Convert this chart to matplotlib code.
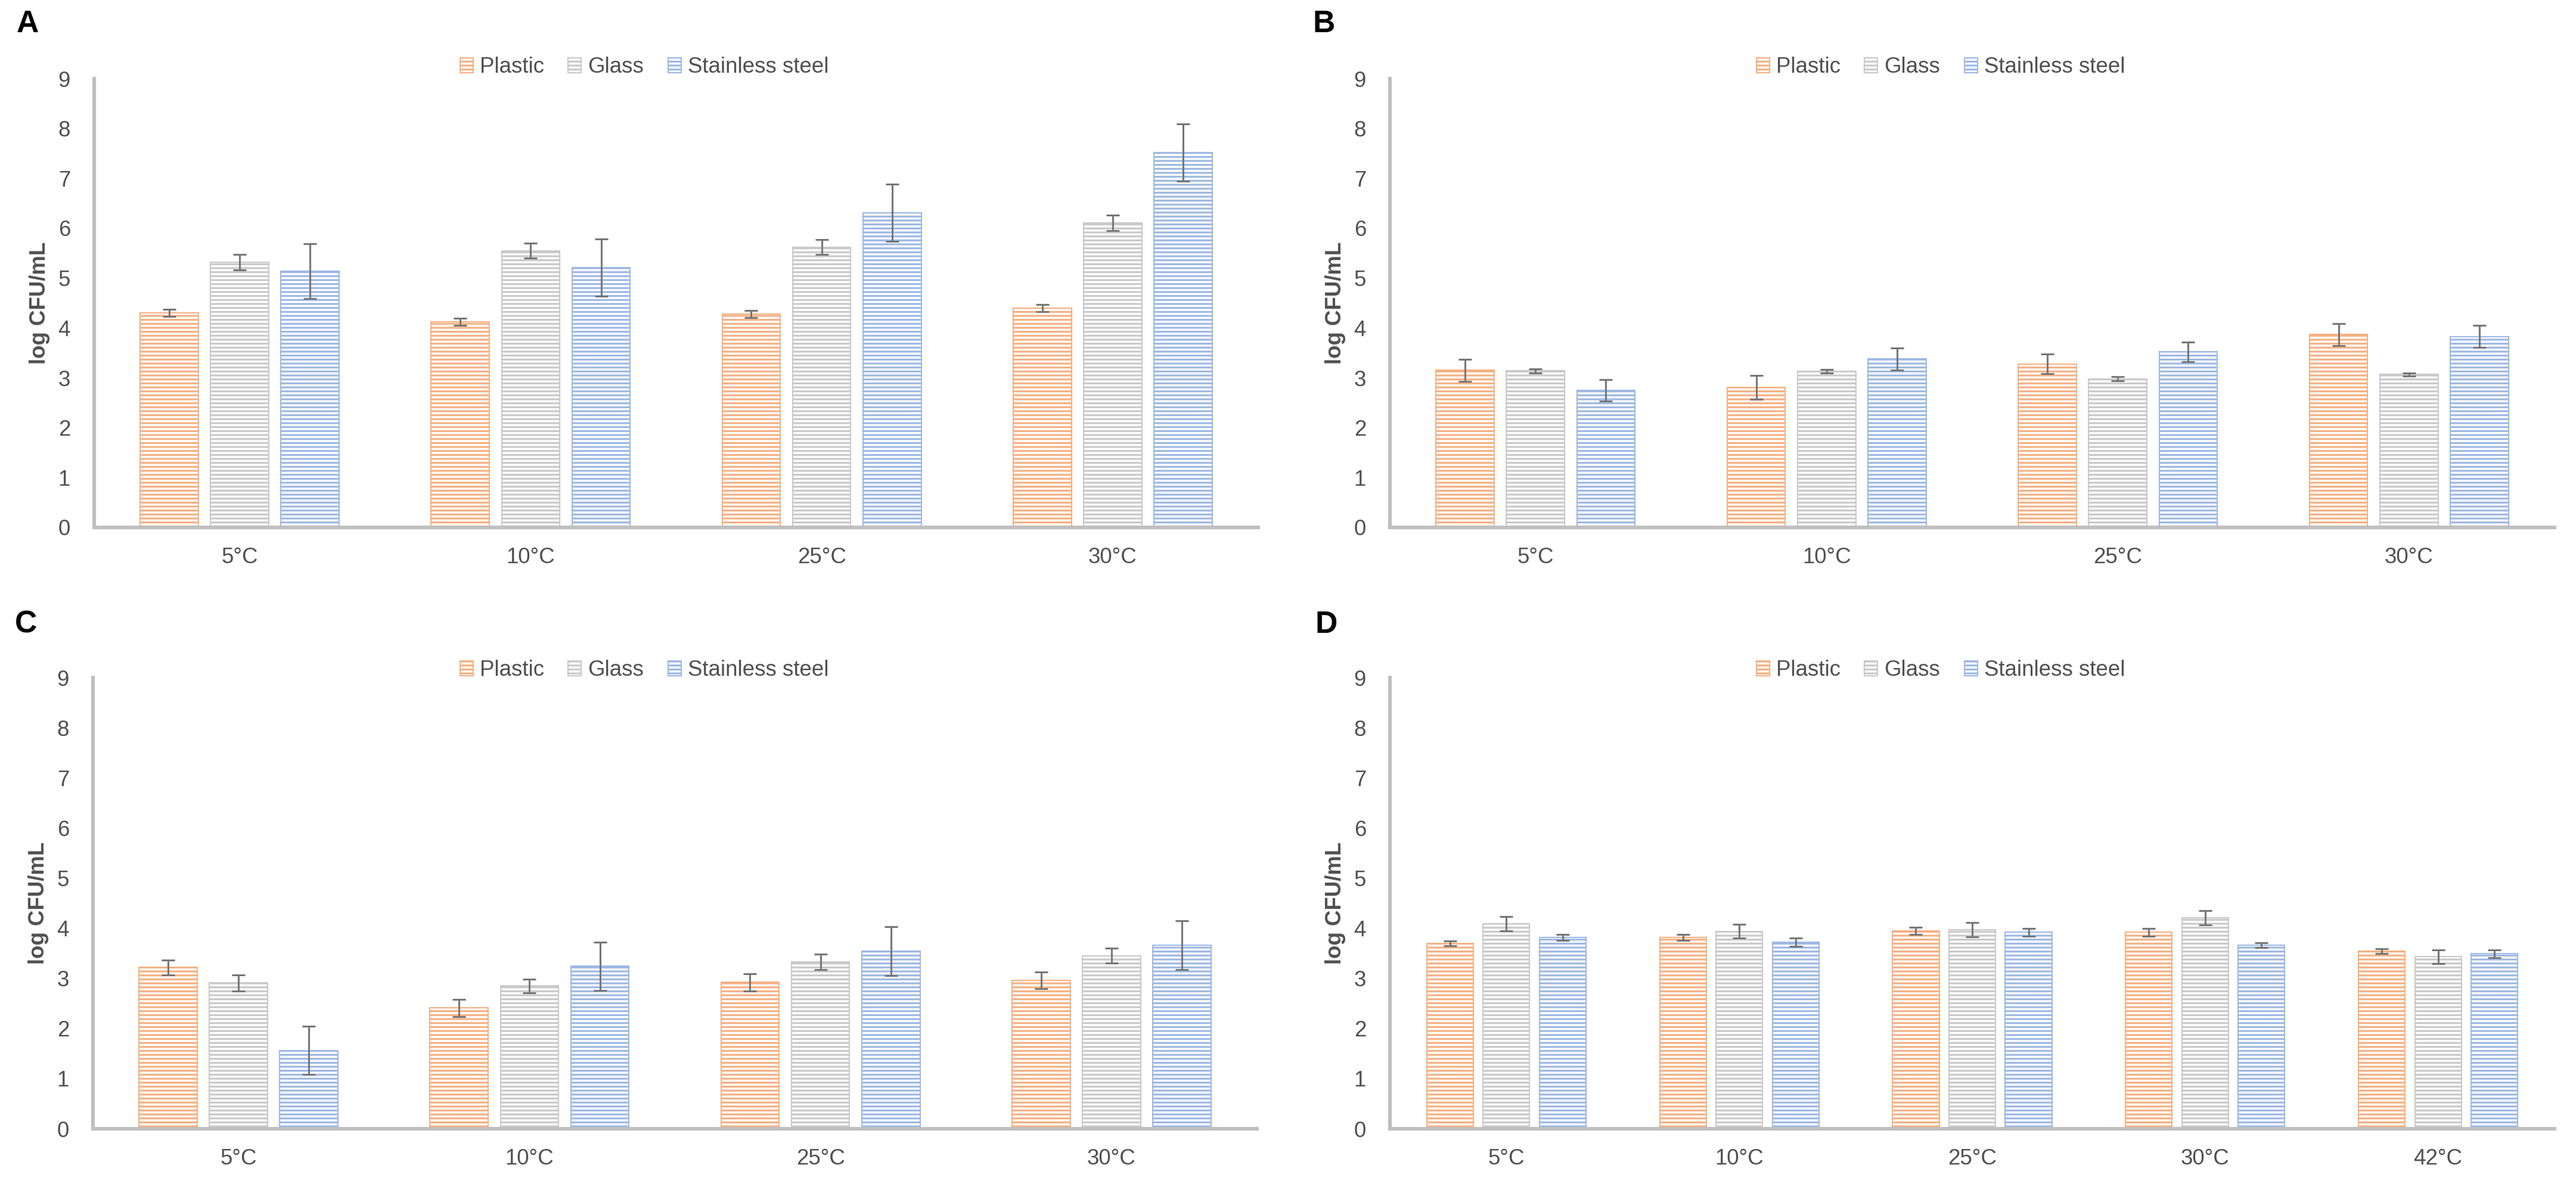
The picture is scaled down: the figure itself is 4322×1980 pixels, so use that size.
import matplotlib
matplotlib.use('Agg')
import matplotlib.pyplot as plt
import numpy as np

# figure size in pixels, rendered at 120 dpi so the '---' hatch matches the Excel stripe pitch
W, H, DPI = 4322, 1980, 120

plt.rcParams['font.family'] = ['Liberation Sans Narrow', 'Liberation Sans', 'DejaVu Sans']
plt.rcParams['hatch.linewidth'] = 1.9

temps_4 = ['5°C', '10°C', '25°C', '30°C']
temps_5 = ['5°C', '10°C', '25°C', '30°C', '42°C']
materials = ['Plastic', 'Glass', 'Stainless steel']

# panel A
a_plastic = [4.30, 4.12, 4.28, 4.40]
a_plastic_err = [0.07, 0.07, 0.07, 0.07]
a_glass = [5.32, 5.55, 5.62, 6.11]
a_glass_err = [0.16, 0.15, 0.15, 0.155]
a_steel = [5.14, 5.21, 6.31, 7.52]
a_steel_err = [0.55, 0.57, 0.57, 0.57]

# panel B
b_plastic = [3.15, 2.81, 3.28, 3.87]
b_plastic_err = [0.22, 0.24, 0.20, 0.22]
b_glass = [3.14, 3.13, 2.98, 3.07]
b_glass_err = [0.04, 0.04, 0.04, 0.03]
b_steel = [2.75, 3.38, 3.52, 3.83]
b_steel_err = [0.22, 0.22, 0.20, 0.22]

# panel C
c_plastic = [3.22, 2.41, 2.92, 2.96]
c_plastic_err = [0.15, 0.17, 0.17, 0.17]
c_glass = [2.91, 2.85, 3.33, 3.45]
c_glass_err = [0.16, 0.14, 0.15, 0.15]
c_steel = [1.56, 3.24, 3.54, 3.66]
c_steel_err = [0.48, 0.48, 0.49, 0.49]

# panel D
d_plastic = [3.70, 3.82, 3.95, 3.92, 3.54]
d_plastic_err = [0.05, 0.06, 0.07, 0.08, 0.05]
d_glass = [4.09, 3.94, 3.97, 4.21, 3.43]
d_glass_err = [0.14, 0.14, 0.14, 0.14, 0.14]
d_steel = [3.82, 3.72, 3.92, 3.66, 3.49]
d_steel_err = [0.06, 0.08, 0.08, 0.05, 0.08]

colors = ['#F4B183', '#C9C9C9', '#9DB8E3']
text_color = '#505050'
axis_color = '#BFBFBF'
err_color = '#767676'
bar_w = 0.2
bar_step = 0.242


def px(x0, y0, x1, y1):
    # axes rectangle from pixel box (top-left origin)
    return [x0 / W, 1 - y1 / H, (x1 - x0) / W, (y1 - y0) / H]


def panel(fig, rect, letter, letter_xy, legend_xy, cats, plastic, plastic_err, glass, glass_err, steel, steel_err):
    ax = fig.add_axes(px(*rect))
    x = np.arange(len(cats))
    series = [(plastic, plastic_err), (glass, glass_err), (steel, steel_err)]
    for k, (vals, errs) in enumerate(series):
        ax.bar(x + (k - 1) * bar_step, vals, bar_w, yerr=errs,
               facecolor='white', edgecolor=colors[k], linewidth=1.2, hatch='---',
               label=materials[k],
               error_kw=dict(ecolor=err_color, elinewidth=1.8, capsize=6.6, capthick=1.8))
    ax.set_xlim(-0.5, len(cats) - 0.5)
    ax.set_ylim(0, 9)
    ax.set_yticks(range(10))
    ax.set_xticks(x)
    ax.set_xticklabels(cats)
    for s in ['top', 'right']:
        ax.spines[s].set_visible(False)
    for s in ['left', 'bottom']:
        ax.spines[s].set_color(axis_color)
        ax.spines[s].set_linewidth(3.6)
    ax.tick_params(axis='both', length=0, labelsize=22, colors=text_color)
    ax.tick_params(axis='y', pad=24)
    ax.tick_params(axis='x', pad=20)
    ax.set_ylabel('log CFU/mL', fontsize=22, fontweight='bold', color=text_color, va='center')
    ax_w = rect[2] - rect[0]
    ax.yaxis.set_label_coords(-92 / ax_w, 0.5)
    ax.legend(loc='center', bbox_to_anchor=(legend_xy[0] / W, 1 - legend_xy[1] / H),
              bbox_transform=fig.transFigure, ncol=3, frameon=False, fontsize=22,
              labelcolor=text_color, handlelength=0.6, handleheight=0.65,
              handletextpad=0.3, columnspacing=1.1)
    fig.text(letter_xy[0] / W, 1 - letter_xy[1] / H, letter, fontsize=31, fontweight='bold',
             family='Liberation Sans', ha='left', va='center', color='black')
    return ax


fig = plt.figure(figsize=(W / DPI, H / DPI), dpi=DPI)
panel(fig, (158, 132, 2111, 885), 'A', (28, 40), (1081, 113), temps_4,
      a_plastic, a_plastic_err, a_glass, a_glass_err, a_steel, a_steel_err)
panel(fig, (2332, 132, 4286, 885), 'B', (2203, 40), (3256, 113), temps_4,
      b_plastic, b_plastic_err, b_glass, b_glass_err, b_steel, b_steel_err)
panel(fig, (156, 1137, 2109, 1894), 'C', (25, 1048), (1081, 1125), temps_4,
      c_plastic, c_plastic_err, c_glass, c_glass_err, c_steel, c_steel_err)
panel(fig, (2332, 1137, 4286, 1894), 'D', (2207, 1048), (3256, 1125), temps_5,
      d_plastic, d_plastic_err, d_glass, d_glass_err, d_steel, d_steel_err)

plt.savefig('out.png', dpi=DPI, facecolor='white')
